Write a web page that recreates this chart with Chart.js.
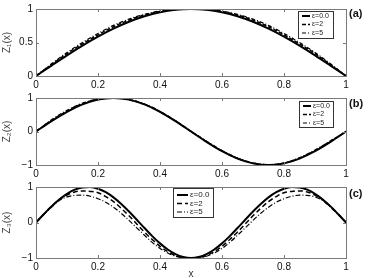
<!DOCTYPE html>
<html>
<head>
<meta charset="utf-8">
<script src="https://cdn.jsdelivr.net/npm/chart.js@4.4.1/dist/chart.umd.min.js"></script>
<style>
  body { margin: 0; background: #fff; width: 374px; height: 278px; position: relative; overflow: hidden; font-family: "Liberation Sans", Arial, sans-serif; }
  canvas { position: absolute; left: 0; }
  .tag { position: absolute; left: 349px; font-weight: bold; font-size: 11px; color: #111; line-height: 12px; }
</style>
</head>
<body>
<canvas id="ca" width="374" height="94" style="top:0"></canvas>
<canvas id="cb" width="374" height="94" style="top:89px"></canvas>
<canvas id="cc" width="374" height="100" style="top:178px"></canvas>
<div class="tag" style="top:7px">(a)</div>
<div class="tag" style="top:97px">(b)</div>
<div class="tag" style="top:187px">(c)</div>
<script>
// x positions of the sampled points
const xs = [0,0.05,0.1,0.15,0.2,0.25,0.3,0.35,0.4,0.45,0.5,0.55,0.6,0.65,0.7,0.75,0.8,0.85,0.9,0.95,1];
const xs3 = [0,0.025,0.05,0.075,0.1,0.125,0.15,0.175,0.2,0.225,0.25,0.275,0.3,0.325,0.35,0.375,0.4,0.425,0.45,0.475,0.5,
             0.525,0.55,0.575,0.6,0.625,0.65,0.675,0.7,0.725,0.75,0.775,0.8,0.825,0.85,0.875,0.9,0.925,0.95,0.975,1];

const legendLabels = ['ε=0.0', 'ε=2', 'ε=5'];
const xTicks = [0, 0.2, 0.4, 0.6, 0.8, 1];
const yTicksA = [0, 0.5, 1];
const yTicksB = [-1, 0, 1];
const yTicksC = [-1, 0, 1];

// panel (a) Z1
const z1e0 = [0,0.156,0.309,0.454,0.588,0.707,0.809,0.891,0.951,0.988,1,0.988,0.951,0.891,0.809,0.707,0.588,0.454,0.309,0.156,0];
const z1e2 = [0,0.17,0.335,0.48,0.615,0.735,0.835,0.91,0.962,0.991,1,0.991,0.962,0.91,0.835,0.735,0.615,0.48,0.335,0.17,0];
const z1e5 = [0,0.182,0.35,0.5,0.635,0.755,0.85,0.92,0.97,0.994,1,0.994,0.97,0.92,0.85,0.755,0.635,0.5,0.35,0.182,0];

// panel (b) Z2
const z2e0 = [0,0.309,0.588,0.809,0.951,1,0.951,0.809,0.588,0.309,0,-0.309,-0.588,-0.809,-0.951,-1,-0.951,-0.809,-0.588,-0.309,0];
const z2e2 = [0,0.33,0.61,0.83,0.96,1,0.95,0.81,0.595,0.315,0.005,-0.30,-0.58,-0.80,-0.945,-0.995,-0.945,-0.795,-0.57,-0.29,0];
const z2e5 = [0,0.35,0.63,0.845,0.97,1,0.955,0.82,0.60,0.32,0.01,-0.29,-0.57,-0.79,-0.94,-0.99,-0.94,-0.78,-0.555,-0.28,0];

// panel (c) Z3
const z3e0 = [0,0.233,0.454,0.649,0.809,0.924,0.988,0.997,0.951,0.853,0.707,0.522,0.309,0.078,-0.156,-0.383,-0.588,-0.760,-0.891,-0.972,-1,
              -0.972,-0.891,-0.760,-0.588,-0.383,-0.156,0.078,0.309,0.522,0.707,0.853,0.951,0.997,0.988,0.924,0.809,0.649,0.454,0.233,0];
const z3e2 = [0,0.23,0.45,0.64,0.775,0.86,0.89,0.875,0.84,0.73,0.59,0.40,0.19,-0.04,-0.27,-0.48,-0.67,-0.82,-0.93,-0.985,-1,
              -0.985,-0.93,-0.82,-0.67,-0.48,-0.27,-0.04,0.19,0.40,0.59,0.73,0.84,0.875,0.89,0.86,0.775,0.64,0.45,0.23,0];
const z3e5 = [0,0.22,0.43,0.62,0.72,0.765,0.77,0.74,0.67,0.57,0.43,0.26,0.06,-0.15,-0.36,-0.56,-0.73,-0.86,-0.95,-0.99,-1,
              -0.99,-0.95,-0.86,-0.73,-0.56,-0.36,-0.15,0.06,0.26,0.43,0.57,0.67,0.74,0.77,0.765,0.72,0.62,0.43,0.22,0];

const FONT = '"Liberation Sans", Arial, sans-serif';

// box with inward ticks on all sides + small legend inside the axes
const boxPlugin = {
  id: 'box',
  afterDraw(chart, args, opts) {
    const { ctx, chartArea: a, scales } = chart;
    ctx.save();
    ctx.strokeStyle = '#7a7a7a';
    ctx.lineWidth = 1;
    ctx.strokeRect(a.left + 0.5, a.top + 0.5, a.right - a.left, a.bottom - a.top);
    ctx.beginPath();
    scales.x.ticks.forEach(t => {
      const px = Math.round(scales.x.getPixelForValue(t.value)) + 0.5;
      ctx.moveTo(px, a.bottom); ctx.lineTo(px, a.bottom - 3);
      ctx.moveTo(px, a.top); ctx.lineTo(px, a.top + 3);
    });
    scales.y.ticks.forEach(t => {
      const py = Math.round(scales.y.getPixelForValue(t.value)) + 0.5;
      ctx.moveTo(a.left, py); ctx.lineTo(a.left + 3, py);
      ctx.moveTo(a.right, py); ctx.lineTo(a.right - 3, py);
    });
    ctx.stroke();

    // legend
    const L = opts.legend;
    ctx.fillStyle = '#fff';
    ctx.fillRect(L.left, L.top, L.width, L.height);
    ctx.strokeStyle = '#333';
    ctx.strokeRect(L.left + 0.5, L.top + 0.5, L.width, L.height);
    ctx.font = L.font + 'px ' + FONT;
    ctx.textBaseline = 'middle';
    chart.data.datasets.forEach((ds, i) => {
      const y = L.top + L.first + i * L.rowH;
      ctx.strokeStyle = '#000';
      ctx.lineWidth = ds.borderWidth;
      ctx.setLineDash(ds.borderDash || []);
      ctx.beginPath();
      ctx.moveTo(L.left + 4, y);
      ctx.lineTo(L.left + 4 + L.lineLen, y);
      ctx.stroke();
      ctx.setLineDash([]);
      ctx.fillStyle = '#222';
      ctx.fillText(ds.label, L.left + 6 + L.lineLen, y);
    });
    ctx.restore();
  }
};

function makeSets(x, ys, dash2, dash5) {
  const styles = [
    { borderWidth: 2, borderDash: [] },
    { borderWidth: 1.5, borderDash: dash2 },
    { borderWidth: 1.2, borderDash: dash5 }
  ];
  return ys.map((arr, i) => ({
    label: legendLabels[i],
    data: arr.map((v, k) => ({ x: x[k], y: v })),
    borderColor: '#000',
    borderWidth: styles[i].borderWidth,
    borderDash: styles[i].borderDash,
    pointRadius: 0,
    fill: false,
    cubicInterpolationMode: 'monotone'
  }));
}

function makeChart(id, sets, yMin, yMax, yTicks, yTitle, xTitle, xHeight, legend) {
  return new Chart(document.getElementById(id), {
    type: 'line',
    data: { datasets: sets },
    options: {
      responsive: false,
      animation: false,
      events: [],
      layout: { padding: { top: 8, right: 28, left: 0, bottom: 0 } },
      plugins: { legend: { display: false }, tooltip: { enabled: false }, box: { legend } },
      scales: {
        x: {
          type: 'linear', min: 0, max: 1,
          afterBuildTicks: s => { s.ticks = xTicks.map(v => ({ value: v })); },
          afterFit: s => { s.height = xHeight; },
          grid: { display: false, drawTicks: false }, border: { display: false },
          ticks: { color: '#111', font: { family: FONT, size: 10 }, padding: 3, maxRotation: 0, callback: v => String(v) },
          title: { display: !!xTitle, text: xTitle, color: '#333', font: { family: FONT, size: 10, lineHeight: 0.7 }, padding: 0 }
        },
        y: {
          min: yMin, max: yMax,
          afterBuildTicks: s => { s.ticks = yTicks.map(v => ({ value: v })); },
          afterFit: s => { s.width = 36; },
          grid: { display: false, drawTicks: false }, border: { display: false },
          ticks: { color: '#111', font: { family: FONT, size: 10 }, padding: 3, callback: v => String(v).replace('-', '\u2212') },
          title: { display: true, text: yTitle, color: '#444', font: { family: FONT, size: 10 }, padding: { top: 1, bottom: 0 } }
        }
      }
    },
    plugins: [boxPlugin]
  });
}

makeChart('ca', makeSets(xs, [z1e0, z1e2, z1e5], [4, 2], [4, 2, 1, 2]), 0, 1, yTicksA, 'Z\u2081(x)', '', 18,
  { left: 298, top: 11, width: 35, height: 27, font: 7, first: 5, rowH: 8.5, lineLen: 8 });
makeChart('cb', makeSets(xs, [z2e0, z2e2, z2e5], [4, 2], [4, 2, 1, 2]), -1, 1, yTicksB, 'Z\u2082(x)', '', 18,
  { left: 299, top: 12, width: 34, height: 26, font: 7, first: 5, rowH: 8.5, lineLen: 8 });
makeChart('cc', makeSets(xs3, [z3e0, z3e2, z3e5], [5, 3], [5, 2, 1, 2]), -1, 1, yTicksC, 'Z\u2083(x)', 'x', 20,
  { left: 173, top: 10, width: 40, height: 29, font: 8, first: 7, rowH: 8.5, lineLen: 11 });
</script>
</body>
</html>
